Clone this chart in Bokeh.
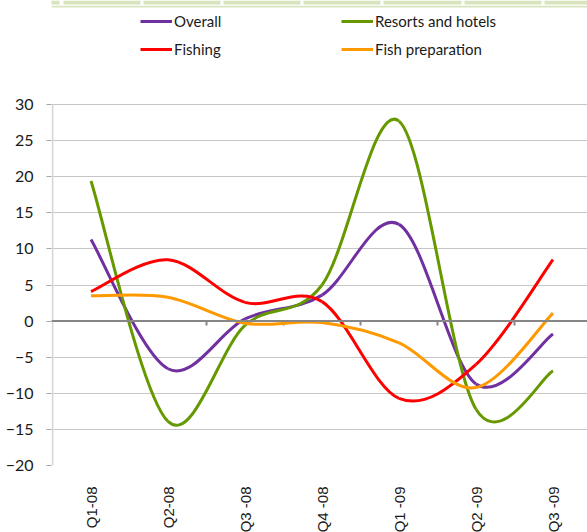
from bokeh.plotting import figure
from bokeh.models import (Range1d, FixedTicker, Span, Legend, LegendItem)
from bokeh.embed import file_html
from bokeh.resources import INLINE
import math

categories = ["Q1-08", "Q2-08", "Q3 -08", "Q4 -08", "Q1 -09", "Q2 -09", "Q3 -09"]
overall = [11.3, -6.6, 0.3, 3.6, 13.4, -8.7, -1.8]
resorts = [19.4, -13.9, -0.6, 5.0, 27.7, -12.2, -6.9]
fishing = [4.1, 8.5, 2.6, 2.7, -10.7, -6.0, 8.5]
fishprep = [3.5, 3.3, -0.3, -0.2, -3.0, -9.2, 1.1]
y_ticks = [-20, -15, -10, -5, 0, 5, 10, 15, 20, 25, 30]

series = [
    ("Overall", overall, "#7030a0"),
    ("Resorts and hotels", resorts, "#669900"),
    ("Fishing", fishing, "#ff0000"),
    ("Fish preparation", fishprep, "#ff9900"),
]

xs = list(range(1, len(categories) + 1))

# layout constants (pixels)
LEFT = 51
WIDTH, HEIGHT = 587, 532
FRAME_W, FRAME_H = WIDTH - LEFT, 465
PX_PER_UNIT = 361 / 50.0
PX_PER_CAT = 77.0
y_lo, y_hi = min(y_ticks), max(y_ticks)
y_top = y_hi + 104 / PX_PER_UNIT
x_lo = 0.5 - 1 / PX_PER_CAT
x_hi = x_lo + FRAME_W / PX_PER_CAT

# decorative header strip (pixel edges of the cells)
strip_cells = [(0, 59), (63, 140), (143, 220), (223, 300), (303, 380),
               (383, 461), (464, 541), (544, 587)]

p = figure(frame_width=FRAME_W, frame_height=FRAME_H, output_backend="svg",
           toolbar_location=None,
           x_range=Range1d(x_lo, x_hi), y_range=Range1d(y_lo, y_top),
           min_border_left=LEFT, min_border_right=0, min_border_top=0,
           min_border_bottom=HEIGHT - FRAME_H)
p.outline_line_color = None
p.background_fill_color = "white"
p.border_fill_color = "white"


def px_to_x(px):
    return x_lo + (px - LEFT) / PX_PER_CAT


def px_to_y(py):
    return y_top - py / PX_PER_UNIT

p.quad(left=[px_to_x(a) for a, b in strip_cells], right=[px_to_x(b) for a, b in strip_cells],
       top=[y_top] * len(strip_cells), bottom=[px_to_y(4)] * len(strip_cells),
       fill_color="#d8e4bc", line_color=None)
p.quad(left=[x_lo], right=[x_hi], top=[px_to_y(5.3)], bottom=[px_to_y(7)],
       fill_color="#d8e4bc", line_color=None)

# grid
p.xgrid.visible = False
p.ygrid.ticker = FixedTicker(ticks=[t for t in y_ticks if t != 0])
p.ygrid.grid_line_color = "#8c8c8c"
p.ygrid.grid_line_dash = "1 1"
p.ygrid.grid_line_width = 1

# y axis
p.yaxis.ticker = FixedTicker(ticks=y_ticks)
p.yaxis.axis_line_color = None
p.yaxis.major_tick_line_color = "#a6a6a6"
p.yaxis.major_tick_out = 5
p.yaxis.major_tick_in = 0
p.yaxis.minor_tick_line_color = None
p.yaxis.major_label_text_font = "Lato"
p.yaxis.major_label_text_font_size = "16px"
p.yaxis.major_label_text_color = "#1a1a1a"
p.yaxis.major_label_standoff = 13
# visible y-axis line only over the tick span
p.segment(x0=[0.5], y0=[y_lo], x1=[0.5], y1=[y_hi], line_color="#d9d9d9", line_width=2)

# x axis (labels only)
p.xaxis.ticker = FixedTicker(ticks=xs)
p.xaxis.major_label_overrides = {x: c for x, c in zip(xs, categories)}
p.xaxis.axis_line_color = None
p.xaxis.major_tick_line_color = None
p.xaxis.minor_tick_line_color = None
p.xaxis.major_label_orientation = math.pi / 2
p.xaxis.major_label_text_font = "Liberation Sans"
p.xaxis.major_label_text_font_size = "15px"
p.xaxis.major_label_text_color = "#1a1a1a"
p.xaxis.major_label_standoff = 15

# zero line + category tick marks
p.add_layout(Span(location=0, dimension="width", line_color="#868686", line_width=2))
bounds = [x + 0.5 for x in xs[:-1]]
p.segment(x0=bounds, y0=[0] * len(bounds), x1=bounds, y1=[-0.6] * len(bounds),
          line_color="#868686", line_width=2)


def smooth(xv, yv):
    n = len(xv)
    out = dict(x0=[], y0=[], x1=[], y1=[], cx0=[], cy0=[], cx1=[], cy1=[])
    for i in range(n - 1):
        a = i - 1 if i > 0 else i
        d = i + 2 if i + 2 < n else i + 1
        out["x0"].append(xv[i]); out["y0"].append(yv[i])
        out["x1"].append(xv[i + 1]); out["y1"].append(yv[i + 1])
        out["cx0"].append(xv[i] + (xv[i + 1] - xv[a]) / 6)
        out["cy0"].append(yv[i] + (yv[i + 1] - yv[a]) / 6)
        out["cx1"].append(xv[i + 1] - (xv[d] - xv[i]) / 6)
        out["cy1"].append(yv[i + 1] - (yv[d] - yv[i]) / 6)
    return out

items = {}
for name, vals, color in series:
    b = smooth(xs, vals)
    r = p.bezier(line_color=color, line_width=3, **b)
    items[name] = LegendItem(label=name, renderers=[r], index=0)


def mk_legend(names, loc):
    lg = Legend(items=[items[n] for n in names], location=loc, orientation="vertical",
                glyph_width=32, glyph_height=20, label_height=20, spacing=8,
                label_standoff=2, padding=0, margin=0,
                border_line_color=None, background_fill_alpha=0,
                label_text_font="Lato", label_text_font_size="15px",
                label_text_color="#1a1a1a")
    return lg

p.add_layout(mk_legend(["Overall", "Fishing"], (89, 406)))
p.add_layout(mk_legend(["Resorts and hotels", "Fish preparation"], (290, 406)))

open("out.html", "w").write(file_html(p, INLINE))
